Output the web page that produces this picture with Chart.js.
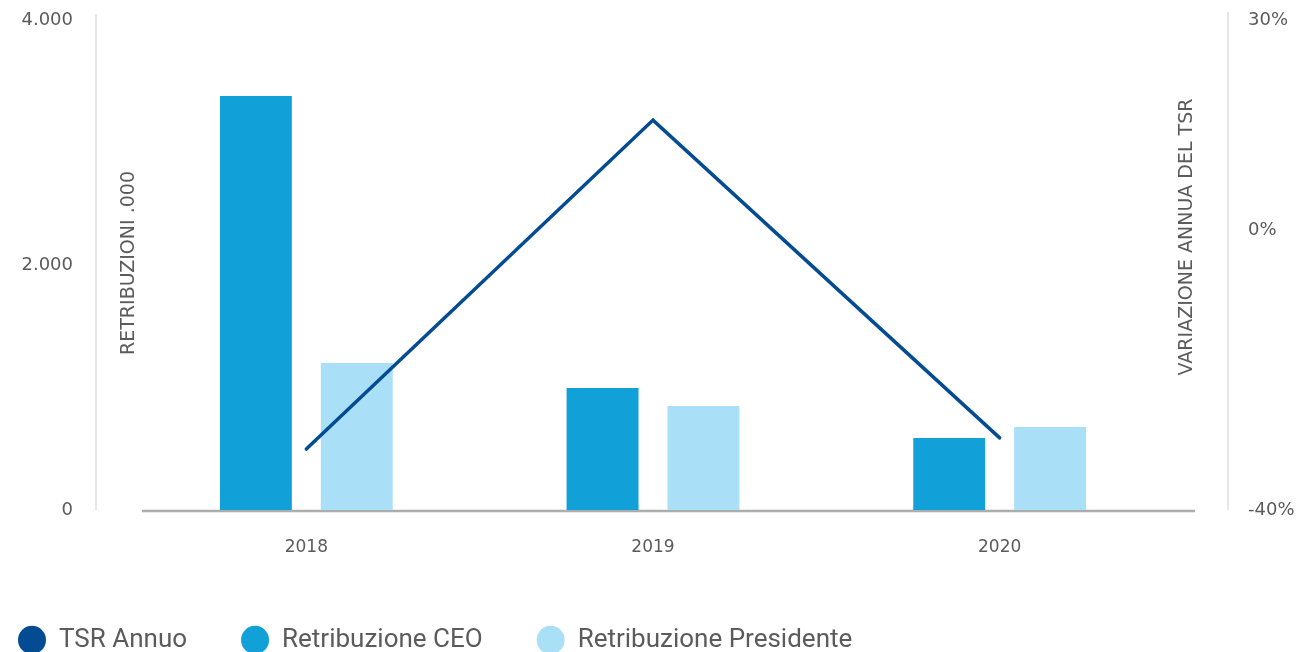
<!DOCTYPE html>
<html>
<head>
<meta charset="utf-8">
<script src="https://cdn.jsdelivr.net/npm/chart.js@4"></script>
<style>
  html, body { margin: 0; padding: 0; background: #fff; overflow: hidden; }
  #wrap { width: 1297px; height: 670px; }
</style>
</head>
<body>
<div id="wrap"><canvas id="chart" width="1297" height="670"></canvas></div>
<script>
// Data
const years = ['2018', '2019', '2020'];
const tsrAnnuo = [-31.3, 15.7, -29.7];                 // %
const retribuzioneCeo = [3380, 996, 588];              // .000
const retribuzionePresidente = [1200, 849, 678];       // .000
const leftTicks = [0, 2000, 4000];
const rightTicks = [-40, 0, 30];

const textColor = '#5b5b5b';

// thousands with a dot, like "4.000"
function formatThousands(v) {
    return String(v).replace(/\B(?=(\d{3})+(?!\d))/g, '.');
}

// axis lines and axis titles sit inside the plot in the original
const framePlugin = {
    id: 'frame',
    beforeDatasetsDraw(chart) {
        const { ctx, chartArea: a } = chart;
        ctx.save();
        ctx.strokeStyle = '#dedede';
        ctx.lineWidth = 1.5;
        ctx.beginPath();
        ctx.moveTo(a.left - 37, a.top - 6);
        ctx.lineTo(a.left - 37, a.bottom);
        ctx.moveTo(a.right + 55, a.top - 8);
        ctx.lineTo(a.right + 55, a.bottom);
        ctx.stroke();

        ctx.strokeStyle = '#adadad';
        ctx.lineWidth = 2.5;
        ctx.beginPath();
        ctx.moveTo(a.left + 9, a.bottom + 1);
        ctx.lineTo(a.right + 22, a.bottom + 1);
        ctx.stroke();

        ctx.fillStyle = textColor;
        ctx.font = '19px "DejaVu Sans"';
        ctx.textAlign = 'center';
        ctx.textBaseline = 'middle';
        ctx.translate(a.left - 4, 263);
        ctx.rotate(-Math.PI / 2);
        ctx.fillText('RETRIBUZIONI .000', 0, 0);
        ctx.restore();

        ctx.save();
        ctx.fillStyle = textColor;
        ctx.font = '19px "DejaVu Sans"';
        ctx.textAlign = 'center';
        ctx.textBaseline = 'middle';
        ctx.translate(a.right + 14, 237);
        ctx.rotate(-Math.PI / 2);
        ctx.fillText('VARIAZIONE ANNUA DEL TSR', 0, 0);
        ctx.restore();
    }
};

// the big tick padding is only meant sideways, so drop the extra top/bottom room
function fixWidth(w) {
    return function(s) {
        s.width = w;
        s.paddingTop = 0;
        s.paddingBottom = 0;
    };
}

const ctx = document.getElementById('chart').getContext('2d');
const chart = new Chart(ctx, {
    type: 'bar',
    data: {
        labels: years,
        datasets: [
            {
                type: 'line',
                label: 'TSR Annuo',
                data: tsrAnnuo,
                yAxisID: 'y1',
                borderColor: '#034b93',
                backgroundColor: '#034b93',
                borderWidth: 3.5,
                borderCapStyle: 'round',
                pointRadius: 0,
                tension: 0,
                order: 0
            },
            {
                label: 'Retribuzione CEO',
                data: retribuzioneCeo,
                yAxisID: 'y',
                backgroundColor: '#12a0d9',
                categoryPercentage: 0.582,
                barPercentage: 0.713,
                order: 1
            },
            {
                label: 'Retribuzione Presidente',
                data: retribuzionePresidente,
                yAxisID: 'y',
                backgroundColor: '#aadff8',
                categoryPercentage: 0.582,
                barPercentage: 0.713,
                order: 1
            }
        ]
    },
    options: {
        responsive: false,
        animation: false,
        layout: {
            padding: { left: -36, right: 0, top: 20, bottom: 7 }
        },
        plugins: {
            tooltip: { enabled: false },
            legend: {
                position: 'bottom',
                align: 'start',
                labels: {
                    usePointStyle: true,
                    pointStyle: 'circle',
                    boxHeight: 20,
                    pointStyleWidth: 28,
                    padding: 54,
                    color: textColor,
                    font: { family: 'Roboto', size: 26 },
                    generateLabels(c) {
                        return Chart.defaults.plugins.legend.labels.generateLabels(c)
                            .map(l => ({ ...l, lineWidth: 0, pointStyle: 'circle' }));
                    }
                }
            }
        },
        scales: {
            x: {
                grid: { display: false },
                border: { display: false },
                ticks: {
                    color: textColor,
                    font: { family: 'DejaVu Sans', size: 17 },
                    padding: 19
                },
                afterFit(s) { s.height = 63; }
            },
            y: {
                position: 'left',
                min: 0,
                max: 4000,
                grid: { display: false },
                border: { display: false },
                afterBuildTicks(s) { s.ticks = leftTicks.map(v => ({ value: v })); },
                ticks: {
                    color: textColor,
                    font: { family: 'DejaVu Sans', size: 18 },
                    padding: 52,
                    callback: v => formatThousands(v)
                },
                afterFit: fixWidth(169)
            },
            y1: {
                position: 'right',
                min: -40,
                max: 30,
                grid: { display: false },
                border: { display: false },
                afterBuildTicks(s) { s.ticks = rightTicks.map(v => ({ value: v })); },
                ticks: {
                    color: textColor,
                    font: { family: 'DejaVu Sans', size: 18 },
                    padding: 67,
                    callback: v => v + '%'
                },
                afterFit: fixWidth(124)
            }
        }
    },
    plugins: [framePlugin]
});
</script>
</body>
</html>
